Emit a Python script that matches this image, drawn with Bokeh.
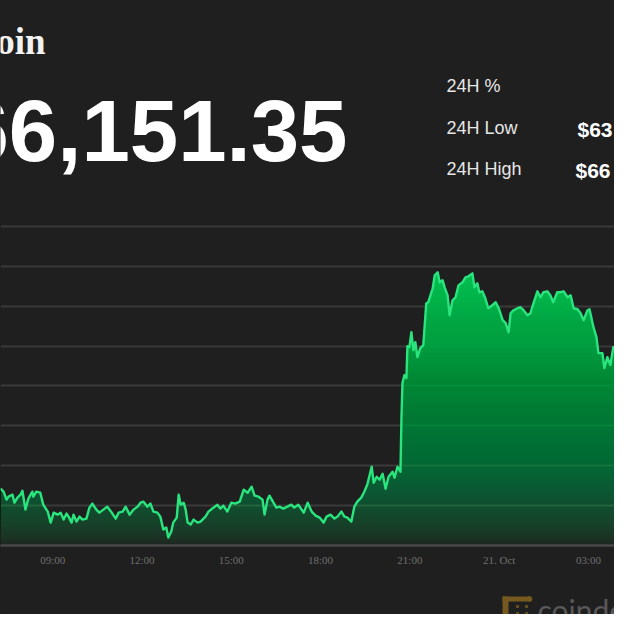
import numpy as np
import pandas as pd
from bokeh.plotting import figure
from bokeh.layouts import column
from bokeh.models import Range1d, FixedTicker, CustomJSTickFormatter
from bokeh.core.properties import value
from bokeh.embed import file_html
from bokeh.resources import INLINE

# ---------------- data ----------------
# minutes after 00:00 on 20 Oct 2021 (values >= 1440 fall on 21 Oct)
minutes = [435, 441, 447, 451, 459, 463, 469, 475, 479, 485, 491, 499, 501, 507, 515, 521, 530, 536, 542, 550,
           556, 562, 568, 572, 578, 582, 588, 594, 600, 608, 614, 620, 628, 634, 642, 650, 659, 667, 673, 681,
           687, 695, 703, 711, 717, 723, 731, 737, 743, 751, 757, 763, 769, 773, 779, 783, 790, 794, 798, 804,
           808, 812, 818, 824, 832, 838,
           848, 854, 864, 872, 878, 884, 892, 900, 908, 917, 925, 933, 941, 947, 955, 963, 967, 973, 977, 985,
           991, 997, 1005, 1013, 1021, 1027, 1035, 1046, 1054, 1062, 1070, 1078, 1086, 1092, 1100, 1108, 1114,
           1122, 1128, 1134, 1142, 1148, 1154, 1162, 1168, 1174, 1183, 1187, 1193, 1199, 1205, 1211, 1217, 1225,
           1229, 1235, 1241, 1243, 1245, 1249, 1253, 1255, 1259, 1263, 1267, 1271, 1275, 1281, 1287,
           1293, 1297, 1306, 1310, 1316, 1320, 1326, 1330, 1336, 1340, 1346, 1352, 1358, 1366, 1372, 1378, 1386,
           1390, 1396, 1400, 1406, 1412, 1418, 1426, 1433, 1439, 1447, 1453, 1459, 1463, 1469, 1477, 1483, 1489,
           1497, 1503, 1509, 1517, 1523, 1529, 1537, 1543, 1549, 1557, 1563, 1570, 1578, 1584, 1590, 1598, 1604,
           1610, 1618, 1622, 1630, 1636, 1640, 1648, 1652, 1658, 1664, 1670, 1678, 1686, 1692, 1698, 1705]

prices = [64212, 64175, 64075, 64112, 64137, 64037, 64100, 64137, 64187, 63950, 64087, 64175, 64112, 64175, 64162,
          64012, 63925, 63787, 63912, 63887, 63912, 63825, 63900, 63862, 63787, 63887, 63800, 63862, 63825, 63837,
          63975, 64025, 63950, 63912, 63950, 63987, 63912, 63837, 63912, 63925, 63987, 63887, 63950, 63987, 64037,
          64050, 63987, 64025, 63925, 63912, 63862, 63700, 63725, 63600, 63675, 63787, 63850, 64137, 64012, 64037,
          63950, 63787, 63762, 63825, 63787, 63800,
          63862, 63925, 63975, 64012, 63962, 64000, 63925, 64037, 64025, 64050, 64200, 64162, 64237, 64125, 64112,
          64075, 63887, 64075, 64125, 64037, 63975, 63987, 63962, 63987, 64012, 63975, 64012, 63912, 64037, 63925,
          63875, 63850, 63787, 63862, 63887, 63837, 63862, 63925, 63862, 63850, 63800, 63987, 64050, 64100, 64175,
          64262, 64487, 64287, 64362, 64325, 64400, 64212, 64362, 64425, 64350, 64487, 64425, 65112, 65537, 65637,
          65600, 66000, 65987, 66175, 65950, 66050, 65862, 65975, 66012,
          66537, 66550, 66725, 66887, 66925, 66800, 66825, 66737, 66637, 66387, 66575, 66612, 66762, 66800, 66862,
          66875, 66912, 66737, 66787, 66675, 66687, 66600, 66475, 66512, 66550, 66475, 66325, 66287, 66175, 66412,
          66450, 66475, 66487, 66450, 66387, 66412, 66537, 66687, 66612, 66675, 66687, 66637, 66550, 66675, 66675,
          66687, 66612, 66637, 66475, 66462, 66412, 66325, 66450, 66462, 66237, 66112, 65912, 65912, 65725, 65862,
          65762, 65987, 65975, 65887, 66012, 65950, 65925]

tick_minutes = [540, 720, 900, 1080, 1260, 1440, 1620]
grid_prices = [64000, 64500, 65000, 65500, 66000, 66500, 67000, 67500]

title_text = "Bitcoin"
price_text = "$66,151.35"
stat_labels = ["24H %", "24H Low", "24H High"]
stat_values = ["$63", "$66"]
logo_text = "coindesk"

# ---------------- styling ----------------
W = 614
BG = "#1f1f1f"
GREEN = "#00d45e"
CSS = {"background-color": BG}
SHIFT = 0.35  # baseline correction (fraction of font size) for the svg text renderer

base_ms = pd.Timestamp("2021-10-20").value // 10**6
xs = np.array([base_ms + m * 60000 for m in minutes], dtype=float)
pr = np.array(prices, dtype=float)
ticks_ms = [base_ms + m * 60000 for m in tick_minutes]


def blank(height, y_top, y_bottom):
    f = figure(width=W, height=height, x_range=Range1d(0, W), y_range=Range1d(y_bottom, y_top),
               x_axis_location=None, y_axis_location=None, min_border=0,
               background_fill_color=BG, border_fill_color=BG, outline_line_color=None,
               output_backend="svg", toolbar_location=None, styles=CSS)
    f.grid.visible = False
    return f


def put_text(fig, xs_, baselines, texts, font, size, color, style="normal", align="left"):
    fig.text(x=xs_, y=[b - SHIFT * size for b in baselines], text=texts, text_font=value(font),
             text_font_style=style, text_font_size=f"{size}px", text_color=color,
             text_align=align, text_baseline="alphabetic")


# ---------------- header ----------------
header = blank(216, 0, 216)
put_text(header, [45], [54], [title_text], "Liberation Serif", 37, "#f2f2f2", "bold", "right")
put_text(header, [347], [160], [price_text], "Liberation Sans", 87, "#ffffff", "bold", "right")
put_text(header, [446, 446, 446], [92, 134, 175], stat_labels, "Liberation Sans", 18, "#e6e6e6")
put_text(header, [577, 575], [136, 177], stat_values, "Liberation Sans", 21, "#ffffff", "bold")

# ---------------- chart ----------------
y0, y1 = 63500, 67625
frame_h = 329
chart = figure(width=W, height=frame_h + 35, x_axis_type="datetime",
               x_range=Range1d(base_ms + 434.8 * 60000, base_ms + 1672.4 * 60000),
               y_range=Range1d(y0, y1), y_axis_location=None,
               min_border_left=0, min_border_right=0, min_border_top=0, min_border_bottom=35,
               background_fill_color=BG, border_fill_color=BG, outline_line_color=None,
               output_backend="svg", toolbar_location=None, styles=CSS)
chart.xgrid.grid_line_color = None
chart.ygrid.ticker = FixedTicker(ticks=grid_prices)
chart.ygrid.grid_line_color = "#3a3a3a"
chart.ygrid.grid_line_width = 2

ax = chart.xaxis[0]
ax.ticker = FixedTicker(ticks=ticks_ms)
ax.formatter = CustomJSTickFormatter(code="""
const d = new Date(tick);
const h = d.getUTCHours(), m = d.getUTCMinutes();
if (h === 0 && m === 0) {
  const mo = ["Jan","Feb","Mar","Apr","May","Jun","Jul","Aug","Sep","Oct","Nov","Dec"];
  return d.getUTCDate() + ". " + mo[d.getUTCMonth()];
}
return String(h).padStart(2, "0") + ":" + String(m).padStart(2, "0");
""")
ax.axis_line_color = "#484848"
ax.axis_line_width = 2.5
ax.major_tick_line_color = None
ax.minor_tick_line_color = None
ax.major_tick_out = 0
ax.major_label_standoff = 8
ax.major_label_text_font = "Liberation Serif"
ax.major_label_text_font_size = "11px"
ax.major_label_text_color = "#707070"

# gradient area: stacked translucent bands, each from its level up to the curve
ppx = (y1 - y0) / frame_h
prev = 0.0
k = 0
while True:
    lo = y0 + k * 3 * ppx
    if lo >= pr.max():
        break
    page_y = 545 - (lo - y0) / ppx - 1.5
    t = min(max((545 - page_y) / 275.0, 0.0), 1.0)
    A = max(0.05, 0.95 * t ** 0.6)
    a = 1 - (1 - A) / (1 - prev)
    prev = A
    chart.varea(x=xs, y1=np.full(len(xs), lo), y2=np.maximum(pr, lo),
                fill_color=GREEN, fill_alpha=float(a))
    k += 1

chart.line(xs, pr, line_color="#2ae47e", line_width=2.4, line_join="round")

# ---------------- footer ----------------
footer = blank(34, 580, 614)
GOLD = "#75591f"
footer.rect(x=[516, 505, 516], y=[598.5, 609.5, 620.5], width=[28, 6, 28], height=[5, 27, 5],
            fill_color=GOLD, line_color=None)
footer.circle(x=[529, 529], y=[598.5, 620.5], radius=2.8, fill_color=GOLD, line_color=None)
footer.rect(x=[517, 526, 517, 526], y=[606, 606, 613, 613], width=3, height=3,
            fill_color=GOLD, line_color=None, fill_alpha=0.8)
put_text(footer, [537], [620], [logo_text], "Lato", 30, "#585858")

layout = column(header, chart, footer, spacing=0, styles=CSS)
open("out.html", "w").write(file_html(layout, INLINE))
